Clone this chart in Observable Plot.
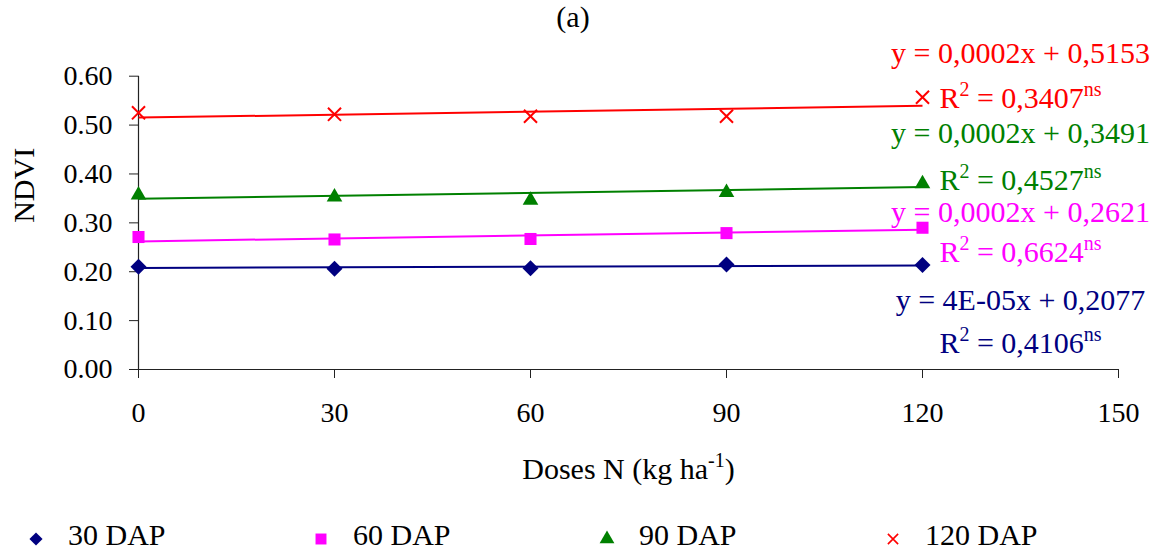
<!DOCTYPE html>
<html>
<head>
<meta charset="utf-8">
<script src="https://cdn.jsdelivr.net/npm/d3@7"></script>
<script src="https://cdn.jsdelivr.net/npm/@observablehq/plot@0.6"></script>
<style>
  html, body { margin: 0; padding: 0; background: #fff; }
  body { width: 1165px; height: 550px; overflow: hidden; font-family: "Liberation Serif", "Times New Roman", serif; color: #000; }
  #title { position: relative; height: 34px; }
  #title span { position: absolute; left: 573px; top: 2px; transform: translateX(-50%); font-size: 30px; line-height: 1; }
  #chart svg { display: block; }
  #legend { position: relative; height: 40px; font-size: 30px; }
  .item { position: absolute; top: 0; height: 40px; }
  .item svg { position: absolute; top: 22px; left: -7px; overflow: visible; }
  .item span { position: absolute; top: 10px; line-height: 1; white-space: nowrap; }
</style>
</head>
<body>
<div id="title"><span>(a)</span></div>
<div id="chart"></div>
<div id="legend"></div>
<script>
// ---- data ----
const doses = [0, 30, 60, 90, 120];
const seriesNames = ["30 DAP", "60 DAP", "90 DAP", "120 DAP"];
const dap30 = [0.210, 0.206, 0.207, 0.215, 0.214];
const dap60 = [0.271, 0.266, 0.267, 0.279, 0.290];
const dap90 = [0.357, 0.353, 0.346, 0.362, 0.380];
const dap120 = [0.525, 0.522, 0.518, 0.518, 0.557];
const slopes = [0.00004, 0.0002, 0.0002, 0.0002];
const intercepts = [0.2077, 0.2621, 0.3491, 0.5153];
const eqLabels = ["y = 4E-05x + 0,2077", "y = 0,0002x + 0,2621", "y = 0,0002x + 0,3491", "y = 0,0002x + 0,5153"];
const r2Values = ["0,4106", "0,6624", "0,4527", "0,3407"];
const xTicks = [0, 30, 60, 90, 120, 150];
const yTicks = [0, 0.1, 0.2, 0.3, 0.4, 0.5, 0.6];

// ---- styles / layout ----
const colors = ["#000080", "#FF00FF", "#008000", "#FF0000"];
const symbols = ["diamond2", "square", "triangle", "times"];
const dotR = [7.2, 6.8, 5.8, 6];
const eqDy = [35, -17, -54, -52];
const r2Dy = [78, 23, -7, -7];
const labelFont = 30;

const values = [dap30, dap60, dap90, dap120];
const rows = seriesNames.map((s, i) => doses.map((d, j) => ({series: s, dose: d, ndvi: values[i][j]})));
const trends = seriesNames.map((s, i) => {
  const x1 = d3.min(doses), x2 = d3.max(doses);
  return {series: s, x1, x2, y1: intercepts[i] + slopes[i] * x1, y2: intercepts[i] + slopes[i] * x2, eq: eqLabels[i], r2: r2Values[i]};
});

const marks = [
  Plot.axisY({ticks: yTicks, tickFormat: d3.format(".2f"), tickSize: 9, tickPadding: 17, label: null, stroke: "#222"}),
  Plot.axisX({ticks: xTicks, tickSize: 9, tickPadding: 24, label: null, stroke: "#222"}),
  Plot.ruleY([0], {stroke: "#222", strokeWidth: 1.2}),
  Plot.ruleX([0], {stroke: "#222", strokeWidth: 1.2}),
  Plot.text(["NDVI"], {text: d => d, frameAnchor: "left", dx: -114, rotate: -90, fontSize: labelFont}),
  Plot.text(["Doses N (kg ha"], {text: d => d, frameAnchor: "bottom", dy: 109, fontSize: labelFont})
];
seriesNames.forEach((s, i) => {
  marks.push(Plot.link([trends[i]], {x1: "x1", y1: "y1", x2: "x2", y2: "y2", stroke: colors[i], strokeWidth: 2}));
});
seriesNames.forEach((s, i) => {
  const filled = symbols[i] !== "times";
  marks.push(Plot.dot(rows[i], {x: "dose", y: "ndvi", symbol: () => symbols[i], r: dotR[i],
    fill: filled ? colors[i] : "none", stroke: colors[i], strokeWidth: filled ? 0 : 2}));
  marks.push(Plot.text([trends[i]], {x: "x2", y: "y2", text: "eq", dx: 98, dy: eqDy[i], fill: colors[i], fontSize: labelFont}));
  marks.push(Plot.text([trends[i]], {x: "x2", y: "y2", text: d => "R2 = " + d.r2, dx: 98, dy: r2Dy[i], fill: colors[i], fontSize: labelFont}));
});

const chart = Plot.plot({
  width: 1165,
  height: 476,
  marginTop: 41.7,
  marginBottom: 141,
  marginLeft: 138,
  marginRight: 47,
  x: {domain: [0, 150]},
  y: {domain: [0, 0.6]},
  symbol: {type: "identity"},
  style: {fontFamily: "'Liberation Serif', 'Times New Roman', serif", fontSize: "28px", color: "#000", background: "#fff"},
  marks
});
document.getElementById("chart").appendChild(chart);

// superscripts
function setParts(el, parts) {
  el.textContent = "";
  let shifted = false;
  parts.forEach(([str, sup]) => {
    const t = document.createElementNS("http://www.w3.org/2000/svg", "tspan");
    t.textContent = str;
    if (sup) {
      t.setAttribute("font-size", "20");
      if (!shifted) { t.setAttribute("dy", "-12"); shifted = true; }
    } else if (shifted) { t.setAttribute("dy", "12"); shifted = false; }
    el.appendChild(t);
  });
}
chart.querySelectorAll("text").forEach(t => {
  const s = t.textContent;
  if (s.startsWith("R2 = ")) {
    setParts(t, [["R", false], ["2", true], [" = " + s.slice(5), false], ["ns", true]]);
  } else if (s === "Doses N (kg ha") {
    setParts(t, [["Doses N (kg ha", false], ["-1", true], [")", false]]);
  }
});

// legend
const legendX = [36, 321, 607, 893];
const legend = d3.select("#legend");
seriesNames.forEach((s, i) => {
  const item = legend.append("div").attr("class", "item").style("left", legendX[i] + "px");
  const svg = item.append("svg").attr("width", 14).attr("height", 14);
  const sym = {diamond2: d3.symbolDiamond2, square: d3.symbolSquare, triangle: d3.symbolTriangle, times: d3.symbolTimes}[symbols[i]];
  const sizes = [110, 120, 95, 70];
  const p = svg.append("path").attr("transform", "translate(7,7)").attr("d", d3.symbol(sym, sizes[i])());
  if (symbols[i] === "times") p.attr("fill", "none").attr("stroke", colors[i]).attr("stroke-width", 1.6);
  else p.attr("fill", colors[i]);
  item.append("span").style("left", "32px").text(s);
});
</script>
</body>
</html>
